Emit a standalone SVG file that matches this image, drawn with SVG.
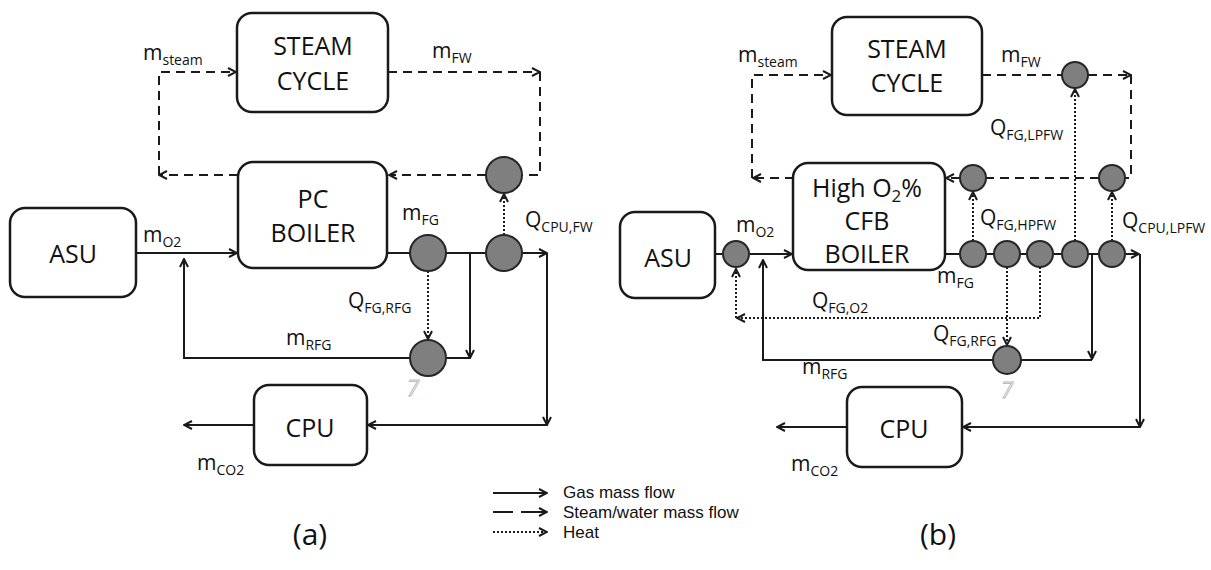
<svg xmlns="http://www.w3.org/2000/svg" width="1211" height="570" viewBox="0 0 1211 570">
<style>
text{font-family:"Open Sans","Liberation Sans",sans-serif;fill:#111}
.box{fill:#fff;stroke:#1a1a1a;stroke-width:2.5}
.bt{font-size:25px;text-anchor:middle}
.lb{font-size:21px}
.sb{font-size:14px}
.cir{fill:#7f7f7f;stroke:#262626;stroke-width:2}
.gas{fill:none;stroke:#1a1a1a;stroke-width:2}
.stm{fill:none;stroke:#1a1a1a;stroke-width:2;stroke-dasharray:9 6}
.heat{fill:none;stroke:#1a1a1a;stroke-width:2;stroke-dasharray:2 2}
.seven{font-size:22px;font-style:italic;fill:#fff;stroke:#bbb;stroke-width:1}
.cap{font-size:30px;text-anchor:middle}
.leg{font-family:"Liberation Sans",Arial,sans-serif;font-size:17px}
</style>
<defs>
<marker id="ah" viewBox="0 0 10 10" refX="9" refY="5" markerWidth="10" markerHeight="10" markerUnits="userSpaceOnUse" orient="auto">
<path d="M1,1 L9,5 L1,9" fill="none" stroke="#1a1a1a" stroke-width="2" stroke-dasharray="none"/>
</marker>
</defs>

<g id="connectors">
<!-- panel a: steam/water -->
<path class="stm" d="M238,175 H159" marker-end="url(#ah)"/>
<path class="stm" d="M159,175 V72 H236" marker-end="url(#ah)"/>
<path class="stm" d="M388,72 H540" marker-end="url(#ah)"/>
<path class="stm" d="M540,72 V175 H522"/>
<path class="stm" d="M486,175 H389" marker-end="url(#ah)"/>
<!-- panel a: gas -->
<path class="gas" d="M136,253 H237" marker-end="url(#ah)"/>
<path class="gas" d="M387,253 H547" marker-end="url(#ah)"/>
<path class="gas" d="M547,253 V425" marker-end="url(#ah)"/>
<path class="gas" d="M547,425 H368" marker-end="url(#ah)"/>
<path class="gas" d="M470,253 V358" marker-end="url(#ah)"/>
<path class="gas" d="M470,358 H184 V259" marker-end="url(#ah)"/>
<path class="gas" d="M254,425 H184" marker-end="url(#ah)"/>
<!-- panel a: heat -->
<path class="heat" d="M504,235 V194" marker-end="url(#ah)"/>
<path class="heat" d="M428,271 V339" marker-end="url(#ah)"/>

<!-- panel b: steam/water -->
<path class="stm" d="M794,178 H753" marker-end="url(#ah)"/>
<path class="stm" d="M752,178 V75 H831" marker-end="url(#ah)"/>
<path class="stm" d="M982,75 H1062"/>
<path class="stm" d="M1088,75 H1131" marker-end="url(#ah)"/>
<path class="stm" d="M1131,75 V178 H1125"/>
<path class="stm" d="M1099,178 H986"/>
<path class="stm" d="M960,178 H946" marker-end="url(#ah)"/>
<!-- panel b: gas -->
<path class="gas" d="M715,254 H723"/>
<path class="gas" d="M749,254 H792" marker-end="url(#ah)"/>
<path class="gas" d="M945,254 H1139" marker-end="url(#ah)"/>
<path class="gas" d="M1140,254 V427" marker-end="url(#ah)"/>
<path class="gas" d="M1140,427 H963" marker-end="url(#ah)"/>
<path class="gas" d="M1092,254 V359" marker-end="url(#ah)"/>
<path class="gas" d="M1092,360 H763 V260" marker-end="url(#ah)"/>
<path class="gas" d="M847,427 H777" marker-end="url(#ah)"/>
<!-- panel b: heat -->
<path class="heat" d="M973,241 V192" marker-end="url(#ah)"/>
<path class="heat" d="M1075,241 V89" marker-end="url(#ah)"/>
<path class="heat" d="M1112,241 V192" marker-end="url(#ah)"/>
<path class="heat" d="M1007,267 V345" marker-end="url(#ah)"/>
<path class="heat" d="M1040,267 V318 H737" marker-end="url(#ah)"/>
<path class="heat" d="M736,318 V269" marker-end="url(#ah)"/>

<!-- legend -->
<path class="gas" d="M493,493 H547" marker-end="url(#ah)"/>
<path class="gas" d="M493,512 H513"/>
<path class="gas" d="M521,512 H547" marker-end="url(#ah)"/>
<path class="heat" d="M493,532 H547" marker-end="url(#ah)"/>
</g>

<!-- panel a nodes -->
<g id="a-steam-cycle"><rect class="box" x="237" y="13" width="151" height="99" rx="15"/>
<text class="bt" x="313" y="55">STEAM</text><text class="bt" x="313" y="90">CYCLE</text></g>
<g id="a-pc-boiler"><rect class="box" x="238" y="162" width="149" height="106" rx="15"/>
<text class="bt" x="313" y="208">PC</text><text class="bt" x="313" y="242">BOILER</text></g>
<g id="a-asu"><rect class="box" x="10" y="208" width="126" height="89" rx="15"/>
<text class="bt" x="73" y="263">ASU</text></g>
<g id="a-cpu"><rect class="box" x="254" y="385" width="113" height="80" rx="15"/>
<text class="bt" x="310" y="437">CPU</text></g>
<g id="a-hx"><circle class="cir" cx="428" cy="253" r="18"/><circle class="cir" cx="504" cy="253" r="18"/>
<circle class="cir" cx="504" cy="175" r="18"/><circle class="cir" cx="428" cy="358" r="18"/></g>

<!-- panel b nodes -->
<g id="b-steam-cycle"><rect class="box" x="832" y="17" width="150" height="98" rx="15"/>
<text class="bt" x="907" y="58">STEAM</text><text class="bt" x="907" y="92">CYCLE</text></g>
<g id="b-cfb-boiler"><rect class="box" x="793" y="163" width="152" height="107" rx="15"/>
<text class="bt" x="867" y="197">High O<tspan font-size="17" dy="5">2</tspan><tspan dy="-5">%</tspan></text>
<text class="bt" x="867" y="230">CFB</text><text class="bt" x="867" y="263">BOILER</text></g>
<g id="b-asu"><rect class="box" x="620" y="212" width="95" height="86" rx="15"/>
<text class="bt" x="668" y="267">ASU</text></g>
<g id="b-cpu"><rect class="box" x="847" y="387" width="115" height="80" rx="15"/>
<text class="bt" x="904" y="438">CPU</text></g>
<g id="b-hx"><circle class="cir" cx="736" cy="254" r="13"/>
<circle class="cir" cx="973" cy="254" r="13"/><circle class="cir" cx="1007" cy="254" r="13"/>
<circle class="cir" cx="1040" cy="254" r="13"/><circle class="cir" cx="1075" cy="254" r="13"/>
<circle class="cir" cx="1112" cy="254" r="13"/>
<circle class="cir" cx="973" cy="178" r="13"/><circle class="cir" cx="1112" cy="178" r="13"/>
<circle class="cir" cx="1075" cy="75" r="13"/><circle class="cir" cx="1007" cy="360" r="14"/></g>

<g id="labels">
<text class="lb" x="143" y="60">m<tspan class="sb" dy="5">steam</tspan></text>
<text class="lb" x="432" y="58">m<tspan class="sb" dy="5">FW</tspan></text>
<text class="lb" x="143" y="242">m<tspan class="sb" dy="5">O2</tspan></text>
<text class="lb" x="402" y="220">m<tspan class="sb" dy="5">FG</tspan></text>
<text class="lb" x="525" y="227">Q<tspan class="sb" dy="5">CPU,FW</tspan></text>
<text class="lb" x="348" y="308">Q<tspan class="sb" dy="5">FG,RFG</tspan></text>
<text class="lb" x="286" y="345">m<tspan class="sb" dy="5">RFG</tspan></text>
<text class="seven" x="407" y="396">7</text>
<text class="lb" x="197" y="470">m<tspan class="sb" dy="5">CO2</tspan></text>
<text class="cap" x="310" y="545">(a)</text>

<text class="lb" x="738" y="62">m<tspan class="sb" dy="5">steam</tspan></text>
<text class="lb" x="1001" y="62">m<tspan class="sb" dy="5">FW</tspan></text>
<text class="lb" x="990" y="135">Q<tspan class="sb" dy="5">FG,LPFW</tspan></text>
<text class="lb" x="736" y="232">m<tspan class="sb" dy="5">O2</tspan></text>
<text class="lb" x="980" y="225">Q<tspan class="sb" dy="5">FG,HPFW</tspan></text>
<text class="lb" x="1122" y="228">Q<tspan class="sb" dy="5">CPU,LPFW</tspan></text>
<text class="lb" x="937" y="283">m<tspan class="sb" dy="5">FG</tspan></text>
<text class="lb" x="812" y="308">Q<tspan class="sb" dy="5">FG,O2</tspan></text>
<text class="lb" x="933" y="341">Q<tspan class="sb" dy="5">FG,RFG</tspan></text>
<text class="lb" x="802" y="374">m<tspan class="sb" dy="5">RFG</tspan></text>
<text class="seven" x="1001" y="398">7</text>
<text class="lb" x="791" y="471">m<tspan class="sb" dy="5">CO2</tspan></text>
<text class="cap" x="938" y="545">(b)</text>

<text class="leg" x="563" y="498">Gas mass flow</text>
<text class="leg" x="563" y="518">Steam/water mass flow</text>
<text class="leg" x="563" y="538">Heat</text>
</g>
</svg>
